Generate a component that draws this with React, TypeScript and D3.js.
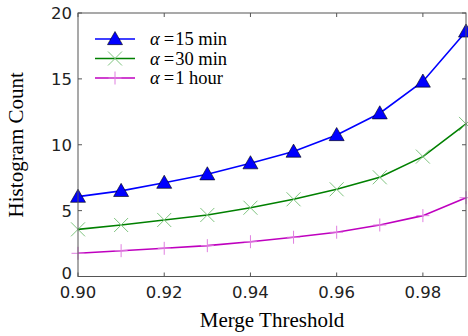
import * as d3 from 'd3'

const THRESHOLDS = [0.9, 0.91, 0.92, 0.93, 0.94, 0.95, 0.96, 0.97, 0.98, 0.99]
const MIN15 = [6.06, 6.5, 7.12, 7.76, 8.6, 9.48, 10.74, 12.39, 14.8, 18.6]
const MIN30 = [3.58, 3.91, 4.29, 4.67, 5.22, 5.86, 6.62, 7.53, 9.1, 11.58]
const HOUR1 = [1.76, 1.96, 2.14, 2.34, 2.64, 2.98, 3.36, 3.91, 4.62, 5.98]
const X_TICKS = [0.9, 0.92, 0.94, 0.96, 0.98]
const Y_TICKS = [0, 5, 10, 15, 20]

const W = 468
const H = 336
const M = { top: 13, right: 2, bottom: 59.5, left: 78 }

const SERIES = [
  { label: '15 min', values: MIN15, color: '#0000ff', marker: 'tri' },
  { label: '30 min', values: MIN30, color: '#008000', marker: 'x' },
  { label: '1 hour', values: HOUR1, color: '#bf00bf', marker: 'plus' },
]

function Marker({ kind, x, y, color }: { kind: string; x: number; y: number; color: string }) {
  if (kind === 'tri') {
    const r = 7.5
    return <path d={`M${x},${y - r}L${x + r},${y + r * 0.75}L${x - r},${y + r * 0.75}Z`} fill={color} stroke="#000" strokeWidth={0.6} />
  }
  if (kind === 'x') {
    const r = 7
    return <path d={`M${x - r},${y - r}L${x + r},${y + r}M${x - r},${y + r}L${x + r},${y - r}`} stroke="#7fc47f" strokeWidth={1} fill="none" />
  }
  const r = 6.5
  return <path d={`M${x - r},${y}L${x + r},${y}M${x},${y - r}L${x},${y + r}`} stroke="#e07fe0" strokeWidth={1} fill="none" />
}

export default function App() {
  const iw = W - M.left - M.right
  const ih = H - M.top - M.bottom
  const x = d3.scaleLinear().domain([0.9, 0.99]).range([M.left, M.left + iw])
  const y = d3.scaleLinear().domain([0, 20]).range([M.top + ih, M.top])
  const line = d3.line<number>().x((_, i) => x(THRESHOLDS[i])).y(d => y(d))
  const tickFont = '"DejaVu Sans", sans-serif'
  const serif = '"Liberation Serif", "Times New Roman", serif'

  return (
    <div style={{ position: 'fixed', left: 0, top: 0 }}>
      <svg width={W} height={H} style={{ display: 'block', background: '#fff' }}>
        {/* series */}
        {SERIES.map(s => (
          <g key={s.label}>
            <path d={line(s.values) || ''} fill="none" stroke={s.color} strokeWidth={1.6} />
            {s.values.map((v, i) => (
              <Marker key={i} kind={s.marker} x={x(THRESHOLDS[i])} y={y(v)} color={s.color} />
            ))}
          </g>
        ))}

        {/* frame */}
        <rect x={M.left} y={M.top} width={iw} height={ih} fill="none" stroke="#555" strokeWidth={1} />

        {/* x ticks */}
        {X_TICKS.map(t => (
          <g key={t}>
            <line x1={x(t)} x2={x(t)} y1={M.top + ih} y2={M.top + ih - 4} stroke="#555" />
            <line x1={x(t)} x2={x(t)} y1={M.top} y2={M.top + 4} stroke="#555" />
            <text x={x(t)} y={M.top + ih + 21.5} textAnchor="middle" fontSize={16.5} fontFamily={tickFont} fill="#222">
              {t.toFixed(2)}
            </text>
          </g>
        ))}

        {/* y ticks */}
        {Y_TICKS.map(t => (
          <g key={t}>
            <line x1={M.left} x2={M.left + 4} y1={y(t)} y2={y(t)} stroke="#555" />
            <line x1={M.left + iw} x2={M.left + iw - 4} y1={y(t)} y2={y(t)} stroke="#555" />
            <text x={M.left - 6} y={y(t) + (t === 0 ? 2.5 : 6)} textAnchor="end" fontSize={16.5} fontFamily={tickFont} fill="#222">
              {t}
            </text>
          </g>
        ))}

        {/* axis labels */}
        <text x={M.left + iw / 2} y={327} textAnchor="middle" fontSize={21} fontFamily={serif} fill="#000">
          Merge Threshold
        </text>
        <text transform={`translate(23,${M.top + ih / 2}) rotate(-90)`} textAnchor="middle" fontSize={21} fontFamily={serif} fill="#000">
          Histogram Count
        </text>

        {/* legend */}
        {SERIES.map((s, i) => {
          const ly = 39 + i * 19.5
          return (
            <g key={s.label}>
              <line x1={95} x2={135} y1={ly} y2={ly} stroke={s.color} strokeWidth={1.6} />
              <Marker kind={s.marker} x={115} y={ly} color={s.color} />
              <text x={150} y={ly + 6} fontSize={18.5} fontFamily={serif} fill="#000">
                <tspan fontStyle="italic">α</tspan>
                <tspan dx={4}>=</tspan>
                <tspan dx={1}>{s.label}</tspan>
              </text>
            </g>
          )
        })}
      </svg>
    </div>
  )
}
